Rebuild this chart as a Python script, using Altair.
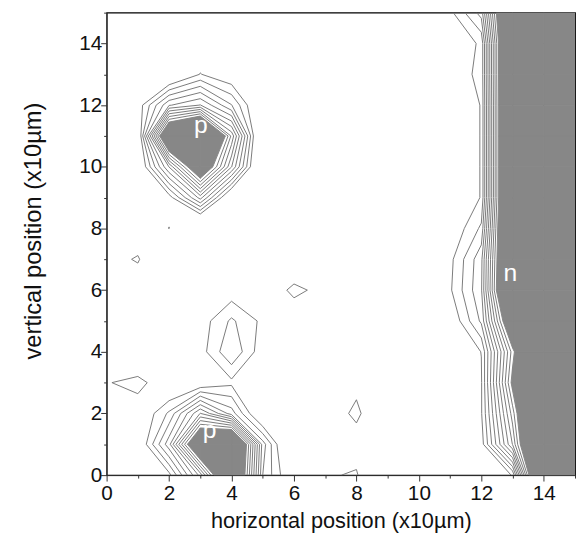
import altair as alt
import pandas as pd

# ---- field values: z at x = 0..15, one list per y row ----
z_y00 = [0, 0, 0.66, 6.37, 17, 3, -0.5, 0.89, 1.1, -0.9, 0, 0, 0, 1.05, 20, 25]
z_y01 = [0, -0.33, 4.6, 15.45, 17.9, 3.5, -2, 0, 0.55, 0, 0, 0, 0.5, 8.05, 20, 25]
z_y02 = [0, -0.3, 2.2, 7.05, 3.5, -0.8, 0, 0.4, 1.2, -0.13, 0, 0, 0.9, 9.5, 20, 25]
z_y03 = [0.85, 1.73, -0.7, -0.15, 0.75, 0, 0, 0, 0.75, 0, 0, 0, 0.9, 11.5, 25, 25]
z_y04 = [0, -1.9, 0, 0.524, 2.9, 0.3, 0, 0, 0, 0, 0, 0, 1.02, 10.5, 19, 25]
z_y05 = [0, 0, 0, 0.42, 2.185, 0.74, 0.1, 0, 0, 0, 0, 0, 3.2, 14.5, 25, 25]
z_y06 = [0, -0.8, 0, 0, 0.33, 0, 1.3, 0.6, 0, 0, 0, 0.85, 3.85, 18.75, 25, 25]
z_y07 = [0, 1.25, -3, 0, 0, 0, -0.2, 0, 0, 0, 0, 0.7, 3.7, 18.3, 25, 25]
z_y08 = [0, -0.8, 1.03, -2.9, 0, 0, 0, 0, 0, 0, 0, 0, 2.2, 19, 25, 25]
z_y09 = [0, 0, 0.44, 5.4, -1.14, 0, 0, 0, 0, 0, 0, 0, 1.05, 19, 25, 25]
z_y10 = [0, -0.67, 6.05, 14.3, 6.05, -2.3, 0, 0, 0, 0, 0, 0, 1.05, 19, 25, 25]
z_y11 = [0, -0.6, 16, 20, 8.75, -2.3, 0, 0, 0, 0, 0, 0, 1.05, 19, 25, 25]
z_y12 = [0, 0.3, 4.9, 6.05, 3.05, -1, 0, 0, 0, 0, 0, 0, 1.05, 19, 25, 25]
z_y13 = [0, 0, -1, 1.05, 0, 0, 0, 0, 0, 0, 0, 0.53, 1.2, 19, 25, 25]
z_y14 = [0, 0, 0, 0, 0, 0, 0, 0, 0, 0, 0, 0, 1.2, 19, 25, 25]
z_y15 = [0, 0, 0, 0, 0, 0, 0, 0, 0, 0, 0, 0.73, 3.4, 19.2, 25, 25]

line_levels = [1, 2, 3, 4, 5, 6, 7, 8, 9, 10]
fill_level = 11

label_text = ["p", "p", "n"]
label_x = [3.02, 3.3, 12.93]
label_y = [11.1, 1.2, 6.3]

x_title = "horizontal position (x10µm)"
y_title = "vertical position (x10µm)"
tick_values = list(range(16))

Z = [z_y00, z_y01, z_y02, z_y03, z_y04, z_y05, z_y06, z_y07,
     z_y08, z_y09, z_y10, z_y11, z_y12, z_y13, z_y14, z_y15]
NY = len(Z)
NX = len(Z[0])


def interp(p1, p2, v1, v2, L):
    t = (L - v1) / (v2 - v1)
    return (p1[0] + t * (p2[0] - p1[0]), p1[1] + t * (p2[1] - p1[1]))


def contour_lines(L):
    segs = []
    for j in range(NY - 1):
        for i in range(NX - 1):
            a = Z[j][i]; b = Z[j][i + 1]; c = Z[j + 1][i + 1]; d = Z[j + 1][i]
            pts = {}
            if (a >= L) != (b >= L):
                pts['B'] = (('h', i, j), interp((i, j), (i + 1, j), a, b, L))
            if (b >= L) != (c >= L):
                pts['R'] = (('v', i + 1, j), interp((i + 1, j), (i + 1, j + 1), b, c, L))
            if (d >= L) != (c >= L):
                pts['T'] = (('h', i, j + 1), interp((i, j + 1), (i + 1, j + 1), d, c, L))
            if (a >= L) != (d >= L):
                pts['L'] = (('v', i, j), interp((i, j), (i, j + 1), a, d, L))
            if len(pts) == 2:
                k = list(pts.values())
                segs.append((k[0], k[1]))
            elif len(pts) == 4:
                center = (a + b + c + d) / 4
                if a >= L:
                    pairs = [('B', 'R'), ('T', 'L')] if center >= L else [('L', 'B'), ('R', 'T')]
                else:
                    pairs = [('L', 'B'), ('R', 'T')] if center >= L else [('B', 'R'), ('T', 'L')]
                for p, q in pairs:
                    segs.append((pts[p], pts[q]))
    pos = {}
    by_key = {}
    for idx, ((k1, p1), (k2, p2)) in enumerate(segs):
        pos[k1] = p1; pos[k2] = p2
        by_key.setdefault(k1, []).append(idx)
        by_key.setdefault(k2, []).append(idx)
    used = [False] * len(segs)
    lines = []
    starts = [k for k, v in by_key.items() if len(v) == 1] + list(by_key.keys())
    for s in starts:
        for idx0 in by_key[s]:
            if used[idx0]:
                continue
            path = [s]; cur = s; idx = idx0
            while idx is not None:
                used[idx] = True
                (k1, _), (k2, _) = segs[idx]
                nxt = k2 if k1 == cur else k1
                path.append(nxt); cur = nxt
                idx = next((q for q in by_key[cur] if not used[q]), None)
            lines.append([pos[k] for k in path])
    return lines


def fill_polys(L):
    polys = []
    for j in range(NY - 1):
        for i in range(NX - 1):
            a = Z[j][i]; b = Z[j][i + 1]; c = Z[j + 1][i + 1]; d = Z[j + 1][i]
            corners = [((i, j), a), ((i + 1, j), b), ((i + 1, j + 1), c), ((i, j + 1), d)]
            above = [v >= L for _, v in corners]
            if not any(above):
                continue
            if sum(above) == 2 and above[0] == above[2] and (a + b + c + d) / 4 < L:
                for k in range(4):
                    if above[k]:
                        p, v = corners[k]
                        pp, vp = corners[k - 1]
                        pn, vn = corners[(k + 1) % 4]
                        polys.append([interp(pp, p, vp, v, L), p, interp(p, pn, v, vn, L)])
                continue
            poly = []
            for k in range(4):
                p, v = corners[k]
                pn, vn = corners[(k + 1) % 4]
                if v >= L:
                    poly.append(p)
                if (v >= L) != (vn >= L):
                    poly.append(interp(p, pn, v, vn, L))
            polys.append(poly)
    return polys


line_rows = []
for L in line_levels:
    for n, pl in enumerate(contour_lines(L)):
        for o, (x, y) in enumerate(pl):
            line_rows.append({"x": x, "y": y, "line": f"{L}-{n}", "ord": o})
lines_df = pd.DataFrame(line_rows)

fill_rows = []
for n, pg in enumerate(fill_polys(fill_level)):
    for o, (x, y) in enumerate(pg):
        fill_rows.append({"x": x, "y": y, "poly": f"f{n}", "ord": o})
fill_df = pd.DataFrame(fill_rows)

text_df = pd.DataFrame({"x": label_x, "y": label_y, "t": label_text})

FONT = "Liberation Sans, Arial, Helvetica, sans-serif"
sx = alt.Scale(domain=[0, 15], nice=False, zero=False)
sy = alt.Scale(domain=[0, 15], nice=False, zero=False)
tick_cond = {"condition": {"test": "datum.value % 2 == 0", "value": 6}, "value": 3}
lab_expr = "datum.value % 2 == 0 ? datum.label : ''"

x_axis = alt.Axis(values=tick_values, labelExpr=lab_expr, tickSize=tick_cond, grid=False,
                  title=x_title, labelFontSize=21, titleFontSize=22, labelPadding=2,
                  titlePadding=7, labelFlush=False, labelOverlap=False,
                  domainColor="#333333", tickColor="#333333", labelColor="#111111",
                  titleColor="#111111", titleFontWeight="normal", labelFont=FONT, titleFont=FONT)
y_axis = alt.Axis(values=tick_values, labelExpr=lab_expr, tickSize=tick_cond, grid=False,
                  title=y_title, labelFontSize=21, titleFontSize=24, labelPadding=-1,
                  titlePadding=34, titleY=221, labelOverlap=False,
                  domainColor="#333333", tickColor="#333333", labelColor="#111111",
                  titleColor="#111111", titleFontWeight="normal", labelFont=FONT, titleFont=FONT)

X = alt.X("x:Q", scale=sx, axis=x_axis)
Y = alt.Y("y:Q", scale=sy, axis=y_axis)

fill_layer = alt.Chart(fill_df).mark_line(
    interpolate="linear-closed", fill="#878787", stroke="#878787", strokeWidth=1, clip=True
).encode(x=X, y=Y, detail="poly:N", order="ord:Q")

line_layer = alt.Chart(lines_df).mark_line(
    color="#7a7a7a", strokeWidth=1, clip=True, strokeJoin="round"
).encode(x=X, y=Y, detail="line:N", order="ord:Q")

text_layer = alt.Chart(text_df).mark_text(
    color="white", fontSize=25, font=FONT, baseline="alphabetic", align="center"
).encode(x=X, y=Y, text="t:N")

chart = alt.layer(fill_layer, line_layer, text_layer).properties(
    width=475, height=469,
    padding={"left": 100, "top": 1, "right": 1, "bottom": 56},
    autosize=alt.AutoSizeParams(type="none"),
).configure_view(stroke="#000000", strokeWidth=1.2)

chart.save("out.html", embed_options={"renderer": "svg", "actions": False})
